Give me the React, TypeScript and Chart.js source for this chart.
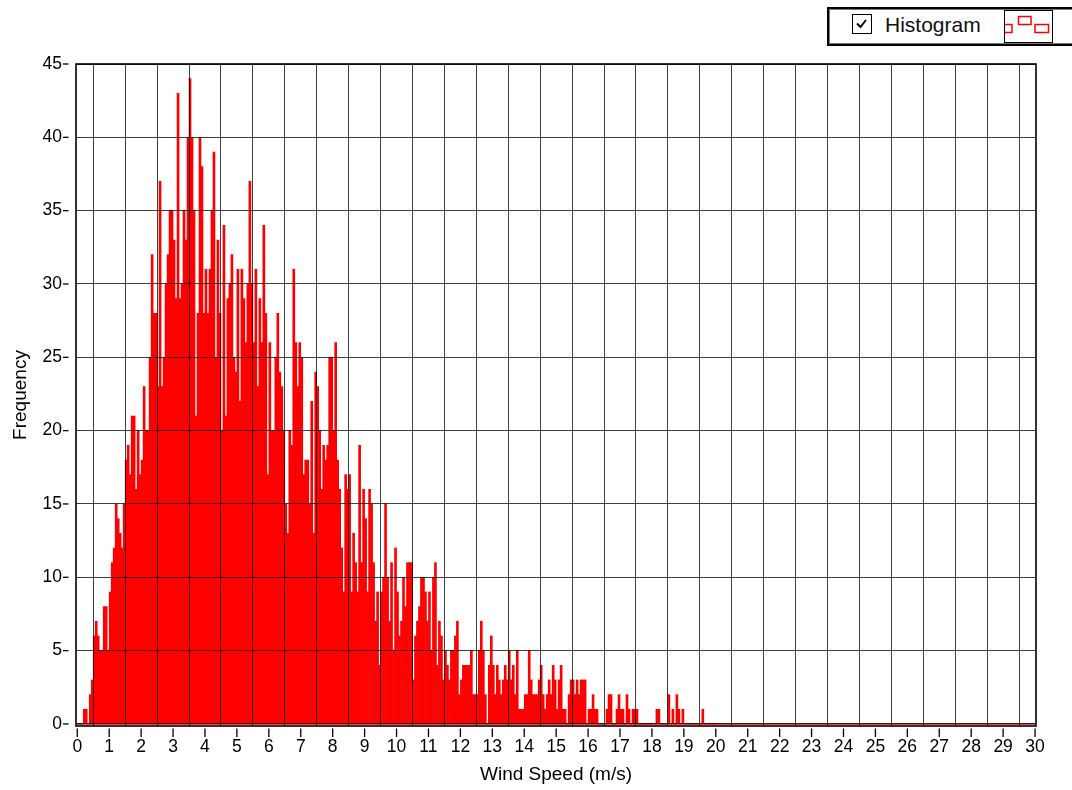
import React, { useEffect, useRef } from "react";
import { Chart, registerables } from "chart.js";

Chart.register(...registerables);

// Histogram bins are 1/16 m/s wide, starting at 0 m/s.
const BIN_WIDTH = 1 / 16;

// Frequency per bin, 0–4 m/s (16 bins per m/s)
const countsFrom0 = [
  0, 0, 0, 1, 1, 0, 2, 3, 6, 7, 6, 5, 5, 8, 8, 5,
  9, 11, 12, 15, 14, 13, 12, 15, 18, 19, 17, 21, 21, 16, 20, 17,
  18, 23, 20, 20, 25, 32, 28, 28, 23, 37, 23, 25, 30, 32, 35, 35,
  33, 29, 43, 29, 30, 35, 33, 40, 44, 40, 35, 21, 28, 40, 38, 28,
];

// 4–8 m/s
const countsFrom4 = [
  31, 28, 31, 35, 39, 25, 33, 28, 20, 34, 21, 29, 30, 32, 25, 24,
  31, 22, 31, 29, 26, 30, 37, 30, 26, 31, 23, 29, 26, 34, 28, 17,
  26, 20, 20, 25, 28, 24, 23, 20, 15, 13, 20, 19, 31, 26, 23, 26,
  25, 17, 18, 18, 15, 22, 13, 24, 23, 20, 16, 19, 18, 19, 25, 25,
];

// 8–12 m/s
const countsFrom8 = [
  20, 26, 18, 16, 12, 9, 17, 16, 17, 9, 13, 11, 9, 19, 11, 16,
  14, 9, 16, 15, 11, 7, 9, 4, 9, 10, 15, 10, 7, 11, 5, 12,
  9, 6, 7, 10, 8, 11, 11, 11, 3, 6, 7, 8, 10, 10, 9, 7,
  9, 5, 10, 11, 4, 7, 6, 3, 5, 4, 3, 5, 5, 6, 7, 2,
];

// 12–16 m/s
const countsFrom12 = [
  3, 4, 4, 4, 4, 5, 2, 2, 2, 5, 7, 5, 2, 0, 4, 6,
  4, 2, 4, 3, 2, 3, 4, 3, 5, 3, 4, 2, 5, 1, 1, 1,
  2, 2, 5, 3, 2, 2, 2, 3, 4, 2, 1, 2, 3, 2, 4, 3,
  1, 3, 4, 1, 1, 0, 2, 3, 3, 2, 3, 2, 3, 3, 3, 0,
];

// 16–20 m/s
const countsFrom16 = [
  1, 1, 2, 1, 1, 0, 0, 0, 0, 1, 2, 2, 0, 0, 1, 2,
  1, 1, 0, 2, 1, 0, 1, 1, 1, 0, 0, 0, 0, 0, 0, 0,
  0, 0, 1, 1, 0, 0, 0, 0, 2, 0, 1, 0, 2, 1, 0, 1,
  0, 0, 0, 0, 0, 0, 0, 0, 0, 1, 0, 0, 0, 0, 0, 0,
];

const xTicks = Array.from({ length: 31 }, (_, i) => i);
const yTicks = [0, 5, 10, 15, 20, 25, 30, 35, 40, 45];

const X_MIN = -0.04;
const X_MAX = 30.03;
const Y_MIN = -0.14;
const Y_MAX = 45;

const FONT_FAMILY = "'Liberation Sans', Arial, Helvetica, sans-serif";

const framePlugin = {
  id: "plotFrame",
  afterDraw(chart: any) {
    const { ctx, chartArea: a, scales } = chart;
    ctx.save();
    ctx.strokeStyle = "#000";
    ctx.lineWidth = 1.6;
    ctx.strokeRect(a.left, a.top, a.right - a.left, a.bottom - a.top);
    ctx.lineWidth = 1.3;
    for (const v of yTicks) {
      const y = scales.y.getPixelForValue(v);
      ctx.beginPath();
      ctx.moveTo(a.left - 13, y);
      ctx.lineTo(a.left - 7.5, y);
      ctx.stroke();
    }
    for (const v of xTicks) {
      const x = scales.x.getPixelForValue(v);
      ctx.beginPath();
      ctx.moveTo(x, a.bottom + 2.5);
      ctx.lineTo(x, a.bottom + 11);
      ctx.stroke();
    }
    ctx.restore();
  },
};

function HistogramChart() {
  const canvasRef = useRef<HTMLCanvasElement | null>(null);

  useEffect(() => {
    const canvas = canvasRef.current;
    if (!canvas) return;
    const counts = [
      ...countsFrom0,
      ...countsFrom4,
      ...countsFrom8,
      ...countsFrom12,
      ...countsFrom16,
    ];
    const bars = counts.map((c, i) => ({ x: (i + 0.5) * BIN_WIDTH, y: c }));
    const tickFont = { family: FONT_FAMILY, size: 17.5 };
    const titleFont = { family: FONT_FAMILY, size: 19 };

    const chart = new Chart(canvas, {
      type: "bar",
      data: {
        datasets: [
          {
            type: "line",
            data: [
              { x: 0, y: 0 },
              { x: 30, y: 0 },
            ],
            borderColor: "#ff0000",
            borderWidth: 1.5,
            pointRadius: 0,
            order: 0,
          } as any,
          {
            type: "bar",
            data: bars,
            backgroundColor: "#ff0000",
            borderWidth: 0,
            barPercentage: 1,
            categoryPercentage: 1,
            order: 1,
          } as any,
        ],
      },
      options: {
        responsive: false,
        animation: false,
        events: [],
        layout: { padding: { top: 64, right: 36, left: 0, bottom: 0 } },
        plugins: {
          legend: { display: false },
          tooltip: { enabled: false },
        },
        scales: {
          x: {
            type: "linear",
            min: X_MIN,
            max: X_MAX,
            offset: false,
            afterBuildTicks: (s: any) => {
              s.ticks = xTicks.map((v) => ({ value: v }));
            },
            afterFit: (s: any) => {
              s.height = 64;
            },
            grid: {
              color: "rgba(0,0,0,0.75)",
              lineWidth: 1,
              drawTicks: false,
              z: 1,
            },
            border: { display: false },
            ticks: {
              font: tickFont,
              color: "#000",
              padding: 11,
              maxRotation: 0,
              autoSkip: false,
            },
            title: {
              display: true,
              text: "Wind Speed (m/s)",
              font: titleFont,
              color: "#000",
              padding: { top: 0, bottom: 4 },
            },
          },
          y: {
            type: "linear",
            min: Y_MIN,
            max: Y_MAX,
            afterBuildTicks: (s: any) => {
              s.ticks = yTicks.map((v) => ({ value: v }));
            },
            afterFit: (s: any) => {
              s.width = 76;
            },
            grid: {
              color: "rgba(0,0,0,0.75)",
              lineWidth: 1,
              drawTicks: false,
              z: 1,
            },
            border: { display: false },
            ticks: {
              font: tickFont,
              color: "#000",
              padding: 14,
              autoSkip: false,
            },
            title: {
              display: true,
              text: "Frequency",
              font: titleFont,
              color: "#000",
              padding: { top: 9, bottom: 0 },
            },
          },
        },
      },
      plugins: [framePlugin],
    } as any);

    return () => chart.destroy();
  }, []);

  return <canvas ref={canvasRef} width={1072} height={790} style={{ display: "block" }} />;
}

function LegendBox() {
  return (
    <div
      style={{
        position: "absolute",
        left: 827,
        top: 7,
        width: 270,
        height: 39,
        boxSizing: "border-box",
        border: "2px solid #000",
        boxShadow: "inset 0 0 0 1px #777",
        background: "#fff",
      }}
    >
      <div
        style={{
          position: "absolute",
          left: 23,
          top: 5,
          width: 20,
          height: 20,
          boxSizing: "border-box",
          border: "1.5px solid #000",
          background: "#fff",
        }}
      >
        <svg width="17" height="17" style={{ position: "absolute", left: 0, top: 0 }}>
          <polyline points="4,8.5 7.5,12 13,5" fill="none" stroke="#000" strokeWidth="2" />
        </svg>
      </div>
      <div
        style={{
          position: "absolute",
          left: 56,
          top: 5,
          fontFamily: FONT_FAMILY,
          fontSize: 21,
          lineHeight: "21px",
          color: "#111",
          whiteSpace: "nowrap",
        }}
      >
        Histogram
      </div>
      <div
        style={{
          position: "absolute",
          left: 175,
          top: 1,
          width: 49,
          height: 33,
          boxSizing: "border-box",
          border: "1.5px solid #000",
          background: "#fff",
          overflow: "hidden",
        }}
      >
        <svg width="46" height="30" style={{ position: "absolute", left: 0, top: 0 }}>
          <rect x="-4" y="13.5" width="11" height="8" fill="none" stroke="#ff0000" strokeWidth="1.5" />
          <rect x="13.5" y="5.5" width="12.5" height="8" fill="none" stroke="#ff0000" strokeWidth="1.5" />
          <rect x="30" y="13.5" width="13.5" height="8" fill="none" stroke="#ff0000" strokeWidth="1.5" />
        </svg>
      </div>
    </div>
  );
}

export default function App() {
  return (
    <div
      style={{
        position: "absolute",
        left: 0,
        top: 0,
        width: 1072,
        height: 790,
        overflow: "hidden",
        background: "#fff",
      }}
    >
      <HistogramChart />
      <LegendBox />
    </div>
  );
}
